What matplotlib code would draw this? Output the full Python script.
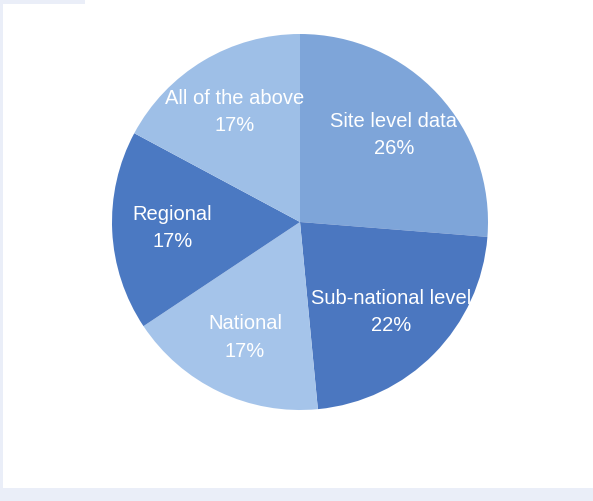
import matplotlib
matplotlib.use("Agg")
import matplotlib.pyplot as plt
from matplotlib.patches import Rectangle

categories = ["Site level data", "Sub-national level", "National", "Regional", "All of the above"]
values = [26, 22, 17, 17, 17]
colors = ["#7ea5d9", "#4b77c0", "#a5c4ea", "#4b79c2", "#9ebfe7"]

W, H = 593, 501
fig = plt.figure(figsize=(W / 100, H / 100), dpi=100)
fig.patch.set_facecolor("white")

band = "#eaeef8"
fig.add_artist(Rectangle((0, 0), 3 / W, 1, transform=fig.transFigure, color=band, lw=0))
fig.add_artist(Rectangle((0, 1 - 4 / H), 85 / W, 4 / H, transform=fig.transFigure, color=band, lw=0))
fig.add_artist(Rectangle((0, 0), 1, 13 / H, transform=fig.transFigure, color=band, lw=0))

cx, cy, r = 300, 222, 188
ax = fig.add_axes([(cx - r) / W, (H - cy - r) / H, 2 * r / W, 2 * r / H])
labels = [f"{c}\n{v}%" for c, v in zip(categories, values)]
wedges, texts = ax.pie(values, colors=colors, startangle=90, counterclock=False,
                       labels=labels, labeldistance=0.68,
                       wedgeprops=dict(linewidth=0),
                       textprops=dict(color="white", fontsize=14.5,
                                      family="Liberation Sans", ha="center",
                                      va="center", linespacing=1.55))
for t in texts:
    t.set_horizontalalignment("center")
ax.set_xlim(-1, 1)
ax.set_ylim(-1, 1)
ax.set_aspect("equal")
ax.axis("off")

fig.savefig("out.png", dpi=100)
